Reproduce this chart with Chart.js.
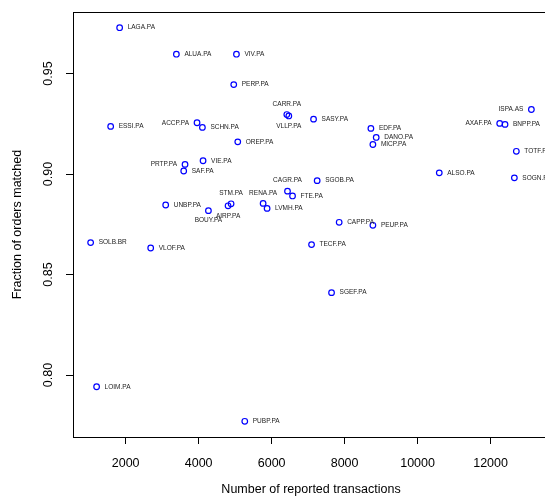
<!DOCTYPE html>
<html>
<head>
<meta charset="utf-8">
<script src="https://cdn.jsdelivr.net/npm/chart.js@4/dist/chart.umd.min.js"></script>
<style>
  html, body { margin: 0; padding: 0; background: #fff; overflow: hidden; }
  #wrap { width: 560px; height: 502px; position: relative; }
</style>
</head>
<body>
<div id="wrap"><canvas id="chart"></canvas></div>
<script>
const tickers = [
  "LAGA.PA", "ALUA.PA", "VIV.PA", "PERP.PA", "CARR.PA", "VLLP.PA", "ESSI.PA", "ACCP.PA",
  "SCHN.PA", "OREP.PA", "VIE.PA", "PRTP.PA", "SAF.PA", "CAGR.PA", "FTE.PA", "SASY.PA",
  "EDF.PA", "DANO.PA", "MICP.PA", "ISPA.AS", "AXAF.PA", "BNPP.PA", "TOTF.PA", "ALSO.PA",
  "SOGN.PA", "SGOB.PA", "STM.PA", "AIRP.PA", "RENA.PA", "LVMH.PA", "BOUY.PA", "UNBP.PA",
  "SOLB.BR", "VLOF.PA", "CAPP.PA", "PEUP.PA", "TECF.PA", "SGEF.PA", "LOIM.PA", "PUBP.PA"
];

const transactions = [
  1835, 3390, 5036, 4962, 6416, 6471, 1589, 3956,
  4103, 5072, 4121, 3627, 3591, 6435, 6573, 7149,
  8720, 8866, 8775, 13118, 12250, 12396, 12706, 10594,
  12652, 7248, 4889, 4806, 5767, 5876, 4268, 3097,
  1040, 2686, 7851, 8775, 7094, 7642, 1204, 5264
];

const fractionMatched = [
  0.9728, 0.9596, 0.9596, 0.9445, 0.9296, 0.9289, 0.9237, 0.9255,
  0.9232, 0.9160, 0.9066, 0.9048, 0.9015, 0.8915, 0.8891, 0.9273,
  0.9227, 0.9182, 0.9147, 0.9321, 0.9252, 0.9247, 0.9113, 0.9006,
  0.8981, 0.8967, 0.8852, 0.8842, 0.8854, 0.8829, 0.8818, 0.8846,
  0.8659, 0.8632, 0.8760, 0.8745, 0.8649, 0.8410, 0.7942, 0.7770
];

// which side of the point each ticker label sits on: r, l, t (above), b (below)
const labelSide = [
  "r", "r", "r", "r", "t", "b", "r", "l",
  "r", "r", "r", "l", "r", "t", "r", "r",
  "r", "r", "r", "l", "l", "r", "r", "r",
  "r", "r", "t", "b", "t", "r", "b", "r",
  "r", "r", "r", "r", "r", "r", "r", "r"
];

const xTicks = [2000, 4000, 6000, 8000, 10000, 12000];
const yTicks = [0.80, 0.85, 0.90, 0.95];

const axisFont = { family: "'Liberation Sans', Arial, sans-serif", size: 12.5 };

const boxPlugin = {
  id: "box",
  afterDraw(chart) {
    const { ctx, chartArea: a } = chart;
    ctx.save();
    ctx.strokeStyle = "#000";
    ctx.lineWidth = 1;
    ctx.strokeRect(Math.round(a.left) + 0.5, Math.round(a.top) + 0.5,
      Math.round(a.right - a.left), Math.round(a.bottom - a.top));
    ctx.restore();
  }
};

const labelPlugin = {
  id: "pointLabels",
  afterDatasetsDraw(chart) {
    const { ctx } = chart;
    const meta = chart.getDatasetMeta(0);
    ctx.save();
    ctx.font = "6.5px 'Liberation Sans', Arial, sans-serif";
    ctx.fillStyle = "#222";
    ctx.textBaseline = "middle";
    meta.data.forEach((pt, i) => {
      const side = labelSide[i];
      let x = pt.x;
      let y = pt.y;
      if (side === "r") { ctx.textAlign = "left"; x += 8; }
      else if (side === "l") { ctx.textAlign = "right"; x -= 8; }
      else if (side === "t") { ctx.textAlign = "center"; y -= 10.5; }
      else { ctx.textAlign = "center"; y += 10; }
      ctx.fillText(tickers[i], x, y);
    });
    ctx.restore();
  }
};

new Chart(document.querySelector("#chart"), {
  type: "scatter",
  data: {
    datasets: [{
      data: transactions.map((t, i) => ({ x: t, y: fractionMatched[i] })),
      pointStyle: "circle",
      pointRadius: 2.8,
      pointHoverRadius: 2.8,
      borderWidth: 1.2,
      borderColor: "#0000ff",
      backgroundColor: "rgba(0,0,0,0)"
    }]
  },
  options: {
    responsive: true,
    maintainAspectRatio: false,
    animation: false,
    layout: { padding: { left: 0, top: 12, right: 11, bottom: 0 } },
    plugins: {
      legend: { display: false },
      tooltip: { enabled: false }
    },
    scales: {
      x: {
        type: "linear",
        min: 557,
        max: 13601,
        afterBuildTicks: (axis) => { axis.ticks = xTicks.map((v) => ({ value: v })); },
        afterFit: (scale) => { scale.height = 65; scale.paddingLeft = 0; scale.paddingRight = 0; },
        border: { display: false },
        grid: { drawOnChartArea: false, drawTicks: true, tickLength: 7, color: "#000" },
        ticks: { color: "#000", font: axisFont, padding: 12, maxRotation: 0, autoSkip: false,
          callback: (v) => String(v) },
        title: { display: true, text: "Number of reported transactions", color: "#000",
          font: axisFont, padding: { top: 0, bottom: 5 } }
      },
      y: {
        type: "linear",
        min: 0.7692,
        max: 0.9806,
        afterBuildTicks: (axis) => { axis.ticks = yTicks.map((v) => ({ value: v })); },
        afterFit: (scale) => { scale.width = 73; scale.paddingTop = 0; scale.paddingBottom = 0; },
        border: { display: false },
        grid: { drawOnChartArea: false, drawTicks: true, tickLength: 7, color: "#000" },
        ticks: { color: "#000", font: axisFont, padding: 5.5, minRotation: 90, maxRotation: 90,
          crossAlign: "center", autoSkip: false, callback: (v) => v.toFixed(2) },
        title: { display: true, text: "Fraction of orders matched", color: "#000",
          font: axisFont, padding: { top: 10.5, bottom: 0 } }
      }
    }
  },
  plugins: [boxPlugin, labelPlugin]
});
</script>
</body>
</html>
